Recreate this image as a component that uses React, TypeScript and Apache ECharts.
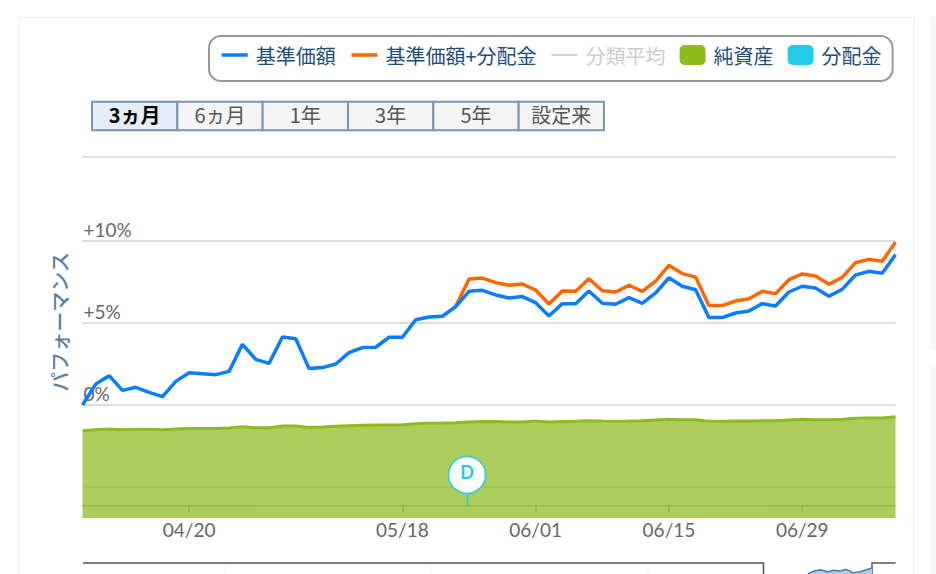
import React, { useEffect, useRef } from "react";
import * as echarts from "echarts";

const dates = [
  "04/08","04/09","04/10","04/13","04/14","04/15","04/16","04/17","04/20","04/21",
  "04/22","04/23","04/24","04/27","04/28","04/30","05/01","05/07","05/08","05/11",
  "05/12","05/13","05/14","05/15","05/18","05/19","05/20","05/21","05/22","05/25",
  "05/26","05/27","05/28","05/29","06/01","06/02","06/03","06/04","06/05","06/08",
  "06/09","06/10","06/11","06/12","06/15","06/16","06/17","06/18","06/19","06/22",
  "06/23","06/24","06/25","06/26","06/29","06/30","07/01","07/02","07/03","07/06",
  "07/07","07/08",
];
const labelledDates = ["04/20", "05/18", "06/01", "06/15", "06/29"];

const basePrice = [
  0, 1.28, 1.79, 0.89, 1.08, 0.77, 0.51, 1.44, 1.97, 1.91,
  1.85, 2.05, 3.7, 2.78, 2.54, 4.15, 4.04, 2.22, 2.28, 2.5,
  3.19, 3.5, 3.52, 4.13, 4.13, 5.2, 5.37, 5.41, 6.0, 6.93,
  6.99, 6.71, 6.52, 6.61, 6.24, 5.43, 6.18, 6.18, 6.95, 6.2,
  6.14, 6.55, 6.2, 6.83, 7.76, 7.24, 7.03, 5.33, 5.33, 5.61,
  5.73, 6.18, 6.04, 6.89, 7.24, 7.13, 6.63, 7.05, 7.93, 8.15,
  8.03, 9.17,
];
const basePricePlusDividend = [
  null, null, null, null, null, null, null, null, null, null,
  null, null, null, null, null, null, null, null, null, null,
  null, null, null, null, null, null, null, null, 6.0, 7.68,
  7.74, 7.46, 7.3, 7.38, 7.01, 6.16, 6.95, 6.93, 7.7, 6.97,
  6.89, 7.3, 6.93, 7.56, 8.52, 8.01, 7.8, 6.06, 6.06, 6.34,
  6.48, 6.93, 6.79, 7.64, 7.99, 7.87, 7.36, 7.78, 8.68, 8.88,
  8.76, 9.92,
];
const categoryAverage: number[] = [];
const netAssets = [
  77.3, 78.2, 78.7, 78.2, 78.5, 78.5, 78.2, 78.7, 79.2, 79.3,
  79.3, 79.6, 80.8, 79.9, 79.9, 81.4, 81.4, 80.2, 80.5, 81.1,
  81.7, 82, 82.3, 82.3, 82.6, 83.5, 83.8, 84, 84.4, 85,
  85.3, 85.3, 85, 85, 85.8, 85, 85.3, 85.6, 86.1, 85.8,
  85.6, 85.8, 86.1, 86.7, 87.3, 87, 87, 85.6, 85.6, 85.8,
  85.8, 86.1, 86.1, 86.7, 87.3, 87, 87, 87.3, 88.2, 88.5,
  88.5, 89.7,
];
const dividendDates = ["05/25"];
const dividendMarkerLevel = 11.2;
const overviewLabels = ["a", "b", "c", "d", "e", "f", "g", "h", "i", "j", "k"];
const overviewValues = [0.3, 3, 4.3, 2.3, 3.7, 3, 4.7, 1.3, 2, 4, 6];

const periodButtons = ["3ヵ月", "6ヵ月", "1年", "3年", "5年", "設定来"];

const JP = '"Noto Sans CJK JP", "Noto Sans", sans-serif';
const LAT = 'Lato, "Noto Sans", sans-serif';
const BLUE = "#0A7CFF";
const ORANGE = "#FF6600";
const GREEN = "#8DBB1E";
const CYAN = "#22CCE6";

function buildOption() {
  const buttons: any[] = [];
  const bx = 92;
  const bw = 85.33;
  periodButtons.forEach((t, i) => {
    buttons.push({
      type: "rect",
      silent: true,
      shape: { x: bx + i * bw, y: 101.7, width: bw, height: 28.6 },
      style: { fill: i === 0 ? "#E4EDF8" : "#F5F5F5", stroke: "#7A94B3", lineWidth: 2 },
    });
    buttons.push({
      type: "text",
      silent: true,
      x: bx + i * bw + bw / 2,
      y: 114,
      style: {
        text: t,
        align: "center",
        verticalAlign: "middle",
        font: `${i === 0 ? "bold " : ""}20px ${JP}`,
        fill: i === 0 ? "#000" : "#555",
      },
    });
  });

  const lineLegendStyle = { opacity: 0 };

  return {
    animation: false,
    backgroundColor: "#fff",
    legend: {
      left: 209,
      top: 36,
      padding: [9, 11, 16, 11],
      backgroundColor: "#fff",
      borderColor: "#999",
      borderWidth: 2,
      borderRadius: 12,
      itemWidth: 26,
      itemHeight: 20,
      itemGap: 14,
      inactiveColor: "#ccc",
      inactiveWidth: 3.5,
      lineStyle: { width: 3.5 },
      textStyle: { fontFamily: JP, fontSize: 20, color: "#1E4D78", padding: [0, 0, 0, 3] },
      selected: { 分類平均: false },
      data: [
        { name: "基準価額", itemStyle: lineLegendStyle },
        { name: "基準価額+分配金", itemStyle: lineLegendStyle },
        { name: "分類平均", itemStyle: lineLegendStyle },
        { name: "純資産", icon: "roundRect" },
        { name: "分配金", icon: "roundRect" },
      ],
    },
    grid: [
      { left: 82.5, right: 40.5, top: 241, height: 246 },
      { left: 82.5, right: 40.5, top: 405, height: 113 },
      { left: 808, right: 64, top: 563, height: 11 },
    ],
    xAxis: [
      { gridIndex: 0, type: "category", data: dates, boundaryGap: false, show: false },
      {
        gridIndex: 1,
        type: "category",
        data: dates,
        boundaryGap: false,
        offset: -12.7,
        z: 5,
        axisLine: { lineStyle: { color: "rgba(110,140,60,0.35)", width: 1.5 } },
        axisTick: {
          length: 7,
          interval: (i: number, v: string) => labelledDates.includes(v),
          lineStyle: { color: "rgba(110,140,60,0.35)", width: 1.5 },
        },
        axisLabel: {
          interval: (i: number, v: string) => labelledDates.includes(v),
          margin: 15,
          fontFamily: LAT,
          fontSize: 19,
          color: "#666",
        },
      },
      { gridIndex: 2, type: "category", data: overviewLabels, boundaryGap: false, show: false },
    ],
    yAxis: [
      {
        gridIndex: 0,
        type: "value",
        min: -5,
        max: 10,
        interval: 5,
        axisLine: { show: false },
        axisTick: { show: false },
        splitLine: { lineStyle: { color: "#DCDCDC", width: 2 } },
        axisLabel: {
          inside: true,
          margin: 1,
          verticalAlign: "bottom",
          padding: [0, 0, 2, 0],
          fontFamily: LAT,
          fontSize: 19,
          color: "#666",
          formatter: (v: number) => (v < 0 ? "" : v === 0 ? "0%" : `+${v}%`),
        },
      },
      { gridIndex: 1, type: "value", min: 0, max: 100, show: false },
      { gridIndex: 2, type: "value", min: 0, max: 11, show: false },
    ],
    graphic: [
      {
        type: "rect",
        silent: true,
        shape: { x: 19.5, y: 17.5, width: 894, height: 600 },
        style: { fill: "none", stroke: "#EEEEEE", lineWidth: 1 },
      },
      { type: "rect", silent: true, shape: { x: 931, y: 17, width: 5, height: 333 }, style: { fill: "#F7F7F7" } },
      { type: "rect", silent: true, shape: { x: 931, y: 367, width: 5, height: 207 }, style: { fill: "#F7F7F7" } },
      {
        type: "line",
        silent: true,
        shape: { x1: 82.5, y1: 157, x2: 895.5, y2: 157 },
        style: { stroke: "#DCDCDC", lineWidth: 2 },
      },
      {
        type: "text",
        silent: true,
        x: 59,
        y: 322,
        rotation: Math.PI / 2,
        style: {
          text: "パフォーマンス",
          align: "center",
          verticalAlign: "middle",
          font: `500 20px ${JP}`,
          fill: "#5A7FA0",
        },
      },
      ...buttons,
      ...[225, 431, 648, 862].map((x) => ({
        type: "line",
        silent: true,
        shape: { x1: x, y1: 563, x2: x, y2: 574 },
        style: { stroke: "#F3F3F3", lineWidth: 1 },
      })),
      {
        type: "polyline",
        silent: true,
        shape: { points: [[83, 563], [763.5, 563], [763.5, 574]] },
        style: { fill: "none", stroke: "#555", lineWidth: 1.5 },
      },
      {
        type: "polyline",
        silent: true,
        shape: { points: [[872, 574], [872, 563], [895.5, 563]] },
        style: { fill: "none", stroke: "#555", lineWidth: 1.5 },
      },
    ],
    series: [
      {
        name: "基準価額+分配金",
        type: "line",
        xAxisIndex: 0,
        yAxisIndex: 0,
        data: basePricePlusDividend,
        symbol: "none",
        clip: false,
        z: 3,
        itemStyle: { color: ORANGE },
        lineStyle: { color: ORANGE, width: 3.5 },
      },
      {
        name: "基準価額",
        type: "line",
        xAxisIndex: 0,
        yAxisIndex: 0,
        data: basePrice,
        symbol: "none",
        clip: false,
        z: 4,
        itemStyle: { color: BLUE },
        lineStyle: { color: BLUE, width: 3.5 },
      },
      {
        name: "分類平均",
        type: "line",
        xAxisIndex: 0,
        yAxisIndex: 0,
        data: categoryAverage,
        symbol: "none",
        itemStyle: { color: "#ccc" },
        lineStyle: { color: "#ccc", width: 3.5 },
      },
      {
        name: "純資産",
        type: "line",
        xAxisIndex: 1,
        yAxisIndex: 1,
        data: netAssets,
        symbol: "none",
        z: 2,
        itemStyle: { color: GREEN },
        lineStyle: { color: GREEN, width: 3 },
        areaStyle: { color: GREEN, opacity: 0.73 },
      },
      {
        name: "分配金",
        type: "custom",
        xAxisIndex: 1,
        yAxisIndex: 1,
        z: 6,
        itemStyle: { color: CYAN },
        data: dividendDates.map((d) => [d, dividendMarkerLevel]),
        renderItem: (_p: any, api: any) => {
          const [x, y] = api.coord([api.value(0), api.value(1)]);
          const cx = x - 2;
          const cy = y - 30.5;
          return {
            type: "group",
            children: [
              {
                type: "line",
                shape: { x1: cx + 0.5, y1: cy + 18, x2: cx + 0.5, y2: y },
                style: { stroke: CYAN, lineWidth: 1.5 },
              },
              {
                type: "circle",
                shape: { cx, cy, r: 18.5 },
                style: { fill: "#fff", stroke: CYAN, lineWidth: 1.5 },
              },
              {
                type: "text",
                x: cx,
                y: cy - 2.5,
                style: {
                  text: "D",
                  align: "center",
                  verticalAlign: "middle",
                  font: `bold 18px ${LAT}`,
                  fill: CYAN,
                },
              },
            ],
          };
        },
      },
      {
        name: "overview",
        type: "line",
        xAxisIndex: 2,
        yAxisIndex: 2,
        data: overviewValues,
        symbol: "none",
        lineStyle: { color: "#4A7DB5", width: 1.5 },
        areaStyle: { color: "#B7C9DF", opacity: 1 },
      },
    ],
  };
}

export default function App() {
  const ref = useRef<HTMLDivElement>(null);
  useEffect(() => {
    document.body.style.margin = "0";
    document.body.style.overflow = "hidden";
    const chart = echarts.init(ref.current!, undefined, { renderer: "svg" });
    chart.setOption(buildOption() as any);
    return () => chart.dispose();
  }, []);
  return <div ref={ref} style={{ width: 936, height: 574 }} />;
}
